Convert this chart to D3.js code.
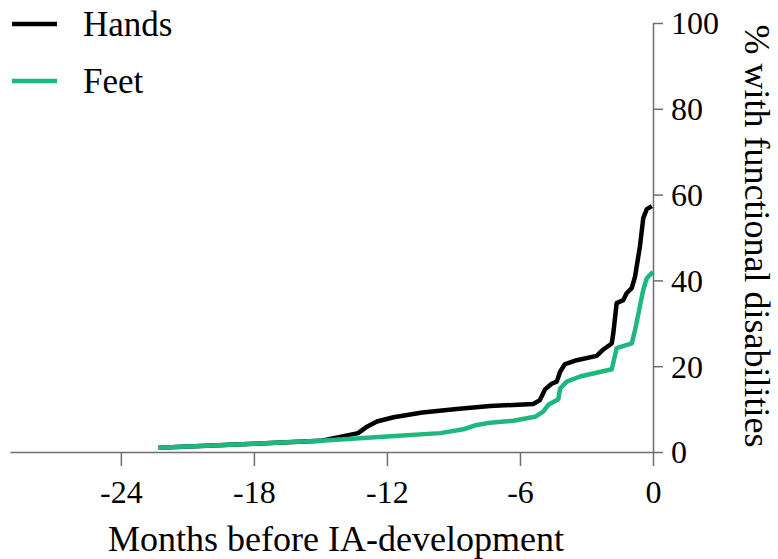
<!DOCTYPE html>
<html>
<head>
<meta charset="utf-8">
<script src="https://cdn.jsdelivr.net/npm/d3@7"></script>
<style>
  body { margin: 0; background: #fff; }
  text { font-family: "Liberation Serif", "Times New Roman", serif; fill: #000; }
</style>
</head>
<body>
<script>
// data (months before IA, % with functional disabilities)
var handsMonths = [-22.3, -18.0, -15.0, -13.3, -12.9, -12.45, -11.7, -10.4, -8.85, -7.35,
	-5.4, -5.1, -4.87, -4.57, -4.34, -4.19, -3.97, -3.44, -2.54, -2.24,
	-1.86, -1.79, -1.64, -1.34, -1.19, -0.96, -0.81, -0.59, -0.44, -0.28, -0.05];
var handsPct = [1.0, 1.9, 2.6, 4.4, 5.9, 7.1, 8.1, 9.2, 10.0, 10.7,
	11.2, 12.1, 14.6, 15.9, 16.4, 18.7, 20.5, 21.4, 22.4, 23.9,
	25.3, 27.7, 34.7, 35.4, 37.0, 38.2, 40.9, 47.9, 54.5, 56.6, 57.3];
var feetMonths = [-22.3, -18.0, -15.0, -12.0, -9.6, -8.55, -7.95, -7.35, -6.3, -5.32,
	-4.95, -4.72, -4.27, -4.19, -3.89, -3.29, -1.86, -1.64, -0.96, -0.81,
	-0.44, -0.28, 0];
var feetPct = [1.0, 1.9, 2.6, 3.6, 4.4, 5.3, 6.3, 6.8, 7.3, 8.2,
	9.4, 11.0, 12.3, 14.8, 16.4, 17.6, 19.3, 24.2, 25.3, 28.4,
	37.8, 40.5, 42.0];
var xTicks = [-24, -18, -12, -6, 0];
var yTicks = [0, 20, 40, 60, 80, 100];
var seriesNames = ["Hands", "Feet"];
var seriesColors = ["#000000", "#1db87e"];

var width = 778, height = 559;
var svg = d3.select("body").append("svg")
	.attr("width", width)
	.attr("height", height);

var xScale = d3.scaleLinear().domain([-29, 0]).range([10, 653]);
var yScale = d3.scaleLinear().domain([0, 100]).range([452, 23]);

// x axis
var xAxis = svg.append("g")
	.attr("transform", "translate(0," + yScale(0) + ")")
	.call(d3.axisBottom(xScale).tickValues(xTicks).tickSize(14).tickSizeOuter(0).tickPadding(14)
		.tickFormat(function(d) { return d; }));
// y axis on the right
var yAxis = svg.append("g")
	.attr("transform", "translate(" + xScale(0) + ",0)")
	.call(d3.axisRight(yScale).tickValues(yTicks).tickSize(10).tickSizeOuter(0).tickPadding(8));

[xAxis, yAxis].forEach(function(ax) {
	ax.attr("font-family", null).attr("font-size", null);
	ax.selectAll("path, line").attr("stroke", "#6e6e6e").attr("stroke-width", 1.5);
	ax.selectAll("text")
		.style("font-family", '"Liberation Serif", "Times New Roman", serif')
		.style("font-size", "32px")
		.attr("fill", "#000");
});
yAxis.selectAll("text").attr("dy", "0.34em");

// axis titles
svg.append("text")
	.attr("x", 336)
	.attr("y", 551)
	.attr("text-anchor", "middle")
	.style("font-size", "36px")
	.text("Months before IA-development");

svg.append("text")
	.attr("transform", "translate(745,236) rotate(90)")
	.attr("text-anchor", "middle")
	.style("font-size", "36px")
	.text("% with functional disabilities");

// lines
var line = d3.line()
	.x(function(d) { return xScale(d[0]); })
	.y(function(d) { return yScale(d[1]); });

var handsData = d3.zip(handsMonths, handsPct);
var feetData = d3.zip(feetMonths, feetPct);

[handsData, feetData].forEach(function(data, i) {
	svg.append("path")
		.datum(data)
		.attr("fill", "none")
		.attr("stroke", seriesColors[i])
		.attr("stroke-width", 4.5)
		.attr("stroke-linejoin", "round")
		.attr("d", line);
});

// legend
var legend = svg.append("g");
seriesNames.forEach(function(name, i) {
	var y = 24 + i * 57;
	legend.append("line")
		.attr("x1", 12).attr("x2", 57)
		.attr("y1", y).attr("y2", y)
		.attr("stroke", seriesColors[i])
		.attr("stroke-width", 4.5);
	legend.append("text")
		.attr("x", 83)
		.attr("y", y + 12)
		.style("font-size", "35px")
		.text(name);
});
</script>
</body>
</html>
